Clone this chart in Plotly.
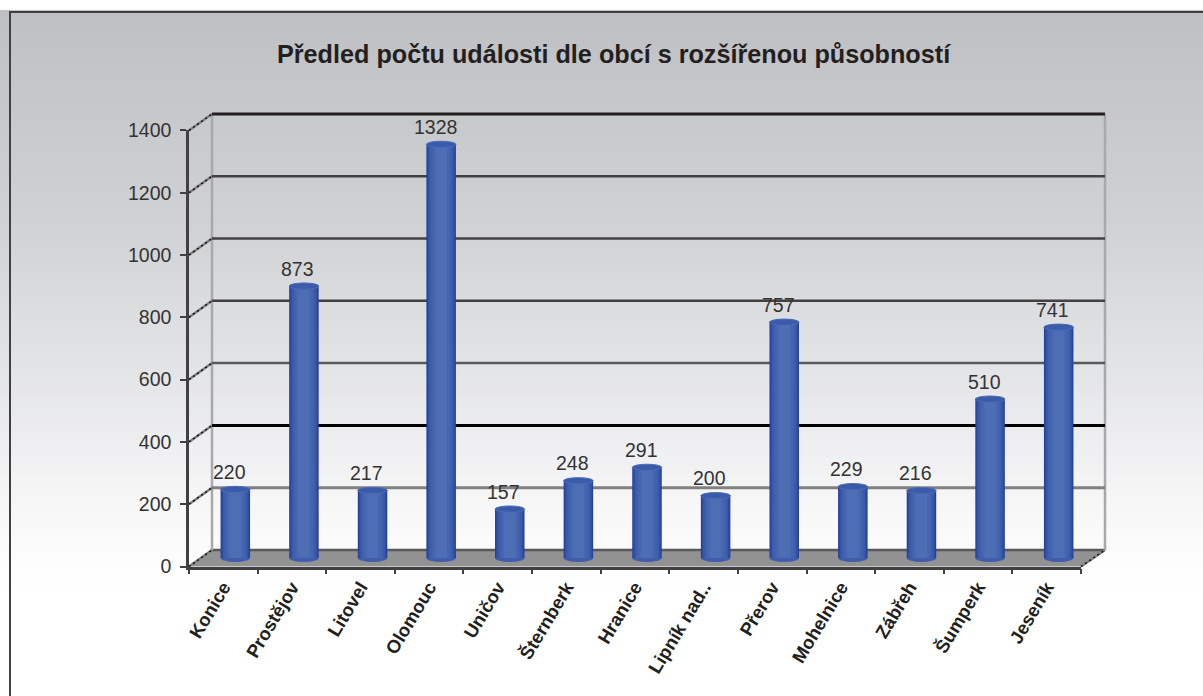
import numpy as np
import plotly.graph_objects as go

W, H = 1203, 696
FONT = "Liberation Sans"

title = "Předled počtu události dle obcí s rozšířenou působností"
categories = ["Konice", "Prostějov", "Litovel", "Olomouc", "Uničov", "Šternberk", "Hranice",
              "Lipník nad..", "Přerov", "Mohelnice", "Zábřeh", "Šumperk", "Jeseník"]
values = [220, 873, 217, 1328, 157, 248, 291, 200, 757, 229, 216, 510, 741]
grid_values = [200, 400, 600, 800, 1000, 1200, 1400]
grid_colors = ["#808080", "#000000", "#58595b", "#414042", "#414042", "#414042", "#231f20"]
grid_widths = [3, 3, 2.5, 2.5, 2.5, 2.5, 3]
bar_widths = [0.43, 0.40, 0.36, 0.31, 0.25, 0.17]
bar_colors = ["#23409a", "#2f4da2", "#3a59a9", "#4060ad", "#4666b0", "#4d6db4"]
bg_stops = [[0, "#bfc0c3"], [0.3, "#d0d1d3"], [0.54, "#e5e6e8"], [0.71, "#f6f6f7"], [0.82, "#fefefe"], [0.86, "#ffffff"], [1, "#ffffff"]]

# pixel geometry: front axis, back wall, bars
SCALE = 0.3115
FX0, FX1, FY0 = 189, 1081, 566.5
WX0, WX1, WY0 = 212, 1105, 550
BX0, BX1, BY0 = FX0 + 12, FX1 + 12, 558
Y_RANGE = [-30, 1450]


def xdom(a, b):
    return [a / W, b / W]


def ydom(y0):
    bottom = y0 - Y_RANGE[0] * SCALE
    top = y0 - Y_RANGE[1] * SCALE
    return [1 - bottom / H, 1 - top / H]


fig = go.Figure()

# background gradient and frame, on a full-page pixel axis pair
rows = np.arange(12, H + 4, 4)
fig.add_trace(go.Heatmap(x=[10, W + 5], y=rows, z=[[float(r), float(r)] for r in rows], zmin=12, zmax=H,
                         colorscale=bg_stops, showscale=False, hoverinfo="skip", xaxis="x", yaxis="y"))
def deco(xs, ys, color, width, dash="solid", fill=None, fillcolor=None):
    fig.add_trace(go.Scatter(x=xs, y=ys, mode="lines", line=dict(color=color, width=width, dash=dash),
                             fill=fill, fillcolor=fillcolor, hoverinfo="skip", showlegend=False,
                             xaxis="x", yaxis="y"))

deco([10, 10, W + 5], [H + 5, 12, 12], "#414042", 2)
# floor
deco([FX0, WX0, WX1, FX1, FX0], [FY0, WY0, WY0, FY0, FY0], "#929292", 0, fill="toself", fillcolor="#929292")
deco([WX0, WX1], [WY0, WY0], "#58595b", 2.5)
# wall verticals
top_wall = WY0 - 1400 * SCALE
deco([WX0, WX0], [top_wall, WY0], "#a7a9ac", 2.5)
deco([WX1, WX1], [top_wall, WY0], "#a7a9ac", 2.5)
# side connectors
for v in [0] + grid_values:
    y0 = FY0 - v * SCALE
    y1 = WY0 - v * SCALE
    deco([FX0, WX0], [y0, y1], "#808080", 2.5)
    deco([FX0, WX0], [y0, y1], "#111111", 1.5, dash="2px,3px")
deco([FX1, WX1], [FY0, WY0], "#808080", 2.5)
deco([FX1, WX1], [FY0, WY0], "#111111", 1.5, dash="2px,3px")

# gridlines on the back wall
for v, c, w in zip(grid_values, grid_colors, grid_widths):
    fig.add_trace(go.Scatter(x=[0, 1], y=[v, v], mode="lines", line=dict(color=c, width=w), hoverinfo="skip",
                             showlegend=False, xaxis="x2", yaxis="y2"))

# bars: nested widths fake the cylinder shading
positions = list(range(len(categories)))
for bw, c in zip(bar_widths, bar_colors):
    fig.add_trace(go.Bar(x=positions, y=values, width=bw, marker=dict(color=c, line=dict(width=0)),
                         hoverinfo="skip", showlegend=False, xaxis="x3", yaxis="y3"))

# front axis (category ticks and value ticks)
fig.add_trace(go.Scatter(x=categories, y=values, mode="markers", marker=dict(opacity=0), hoverinfo="skip",
                         showlegend=False, xaxis="x4", yaxis="y4"))

shapes = []
ew = bar_widths[0] / 2
for p, v in zip(positions, values):
    # base ellipse, below the bar
    shapes.append(dict(type="circle", xref="x3", yref="y3", x0=p - ew, x1=p + ew, y0=-13, y1=13, layer="below",
                       fillcolor="#3e5dab", line=dict(width=0)))
    # top ellipse
    shapes.append(dict(type="circle", xref="x3", yref="y3", x0=p - ew, x1=p + ew, y0=v - 10, y1=v + 10, layer="above",
                       fillcolor="#3a5aaa", line=dict(width=1, color="#4a6bb8")))

annotations = [dict(x=p, y=v, xref="x3", yref="y3", text=str(v), showarrow=False, xshift=-6, yshift=17.5,
                    font=dict(family=FONT, size=19.5, color="#333333")) for p, v in zip(positions, values)]
annotations.append(dict(x=613.5, y=54, xref="x", yref="y", text="<b>%s</b>" % title, showarrow=False,
                        font=dict(family=FONT, size=25.2, color="#231f20")))

hidden = dict(visible=False, fixedrange=True, automargin=False)
fig.update_layout(
    width=W, height=H, margin=dict(l=0, r=0, t=0, b=0, pad=0), paper_bgcolor="#ffffff", plot_bgcolor="rgba(0,0,0,0)",
    barmode="overlay", showlegend=False, shapes=shapes, annotations=annotations,
    xaxis=dict(domain=[0, 1], range=[0, W], **hidden),
    yaxis=dict(domain=[0, 1], range=[H, 0], **hidden),
    xaxis2=dict(domain=xdom(WX0, WX1), range=[0, 1], anchor="y2", **hidden),
    yaxis2=dict(domain=ydom(WY0), range=Y_RANGE, anchor="x2", **hidden),
    xaxis3=dict(domain=xdom(BX0, BX1), range=[-0.5, 12.5], anchor="y3", **hidden),
    yaxis3=dict(domain=ydom(BY0), range=Y_RANGE, anchor="x3", **hidden),
    xaxis4=dict(domain=xdom(FX0, FX1), type="category", categoryorder="array", categoryarray=categories,
                range=[-0.5, 12.5], anchor="y4", tickson="boundaries", ticks="outside", ticklen=5, tickwidth=1.5,
                tickcolor="#414042", showline=True, linecolor="#414042", linewidth=2.5, showgrid=False,
                tickangle=-59, fixedrange=True, automargin=False,
                tickfont=dict(family=FONT, size=18.5, color="#231f20", weight="bold")),
    yaxis4=dict(domain=[1 - FY0 / H, 1 - (FY0 - 1400 * SCALE) / H], range=[0, 1400], anchor="x4", tickvals=[0] + grid_values,
                ticks="outside", ticklen=6, tickwidth=1.5, tickcolor="#414042", showline=True, linecolor="#414042",
                linewidth=2.5, showgrid=False, zeroline=False, fixedrange=True, automargin=False, ticklabelstandoff=5,
                tickfont=dict(family=FONT, size=19.5, color="#333333")),
)

fig.write_html("out.html", config=dict(displayModeBar=False, responsive=False),
               post_script="document.body.style.margin='0';document.documentElement.style.overflow='hidden';")
